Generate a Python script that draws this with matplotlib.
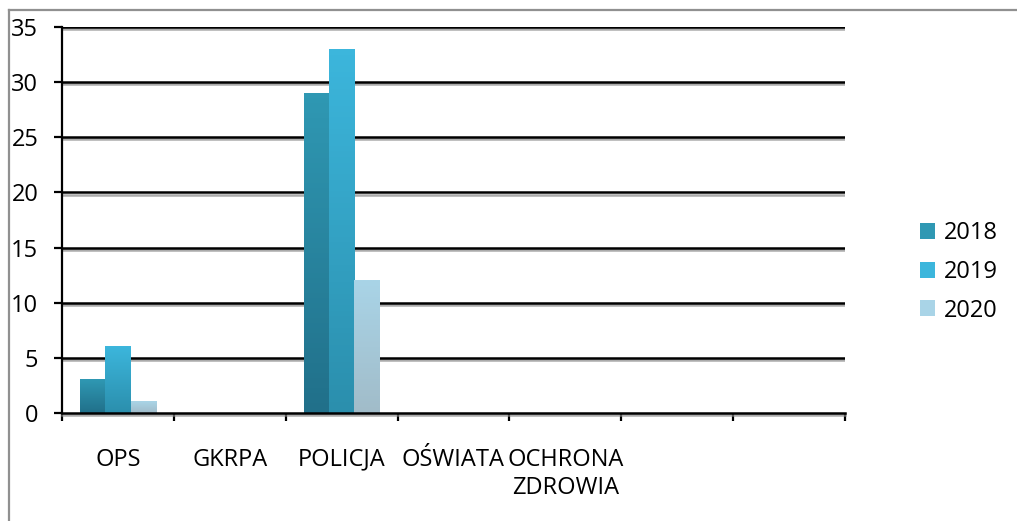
import numpy as np
import matplotlib
matplotlib.use("Agg")
import matplotlib.pyplot as plt
import matplotlib.patheffects as pe
from matplotlib.colors import LinearSegmentedColormap
from matplotlib.patches import Patch
from matplotlib.lines import Line2D

categories = ["OPS", "GKRPA", "POLICJA", "OŚWIATA", "OCHRONA\nZDROWIA", "", ""]
years = ["2018", "2019", "2020"]
v2018 = [3, 0, 29, 0, 0, 0, 0]
v2019 = [6, 0, 33, 0, 0, 0, 0]
v2020 = [1, 0, 12, 0, 0, 0, 0]
series = [v2018, v2019, v2020]

# (top colour, bottom colour) for each year
grads = [("#2F98B3", "#21708A"), ("#3CB6DC", "#2B8FAD"), ("#A9D4E7", "#A1BCC9")]

plt.rcParams['font.family'] = ['Open Sans', 'DejaVu Sans']
fs = 17

fig = plt.figure(figsize=(10.17, 5.21), dpi=100)
ax = fig.add_axes([62/1017, 1-413/521, (845-62)/1017, (413-27)/521])

x = np.arange(len(categories)) + 0.5
w = 0.225
for i, vals in enumerate(series):
    bars = ax.bar(x + (i-1)*w, vals, w, color="none", linewidth=0, zorder=3)
    cmap = LinearSegmentedColormap.from_list("g%d" % i, [grads[i][1], grads[i][0]])
    for b in bars:
        h = b.get_height()
        if h <= 0:
            continue
        x0 = b.get_x()
        grad = np.linspace(0, 1, 64).reshape(-1, 1)
        ax.imshow(grad, cmap=cmap, origin="lower", aspect="auto",
                  extent=[x0, x0 + b.get_width(), 0, h], zorder=3)

ax.set_xlim(0, len(categories))
ax.set_ylim(0, 35)
yt = np.arange(0, 36, 5)
ax.set_yticks(yt)
for y in yt[1:]:
    ax.axhline(y, color="black", lw=1.8, zorder=2,
               path_effects=[pe.SimpleLineShadow(offset=(0, -1.5), shadow_color="#888888", alpha=0.7), pe.Normal()])

ax.set_xticks(np.arange(len(categories)+1))
ax.set_xticklabels([""]*(len(categories)+1))
ax.set_xticks(x, minor=True)
ax.set_xticklabels(categories, minor=True, fontsize=fs, linespacing=1.25)
ax.tick_params(axis="x", which="minor", length=0, pad=25)
ax.tick_params(axis="x", which="major", length=6, width=1.6, direction="out")
ax.tick_params(axis="y", length=6, width=1.6, labelsize=fs, pad=11)

for s in ["top", "right"]:
    ax.spines[s].set_visible(False)
ax.spines["left"].set_linewidth(1.6)
ax.spines["bottom"].set_linewidth(1.8)
ax.spines["bottom"].set_path_effects([pe.SimpleLineShadow(offset=(0, -1.5), shadow_color="#888888", alpha=0.7), pe.Normal()])
ax.spines["bottom"].set_zorder(4)

handles = [Patch(facecolor=grads[i][0], edgecolor="none") for i in range(3)]
fig.legend(handles, years, loc="center left", bbox_to_anchor=(920/1017, 1-272/521),
           frameon=False, fontsize=fs, handlelength=0.65, handleheight=0.65,
           handletextpad=0.35, labelspacing=0.62, borderpad=0, borderaxespad=0)

fig.add_artist(Line2D([8.5/1017, 8.5/1017], [0, 1-10/521], color="#909090", lw=1.6))
fig.add_artist(Line2D([8.5/1017, 1], [1-10/521, 1-10/521], color="#909090", lw=1.6))

fig.savefig("out.png", dpi=100)
